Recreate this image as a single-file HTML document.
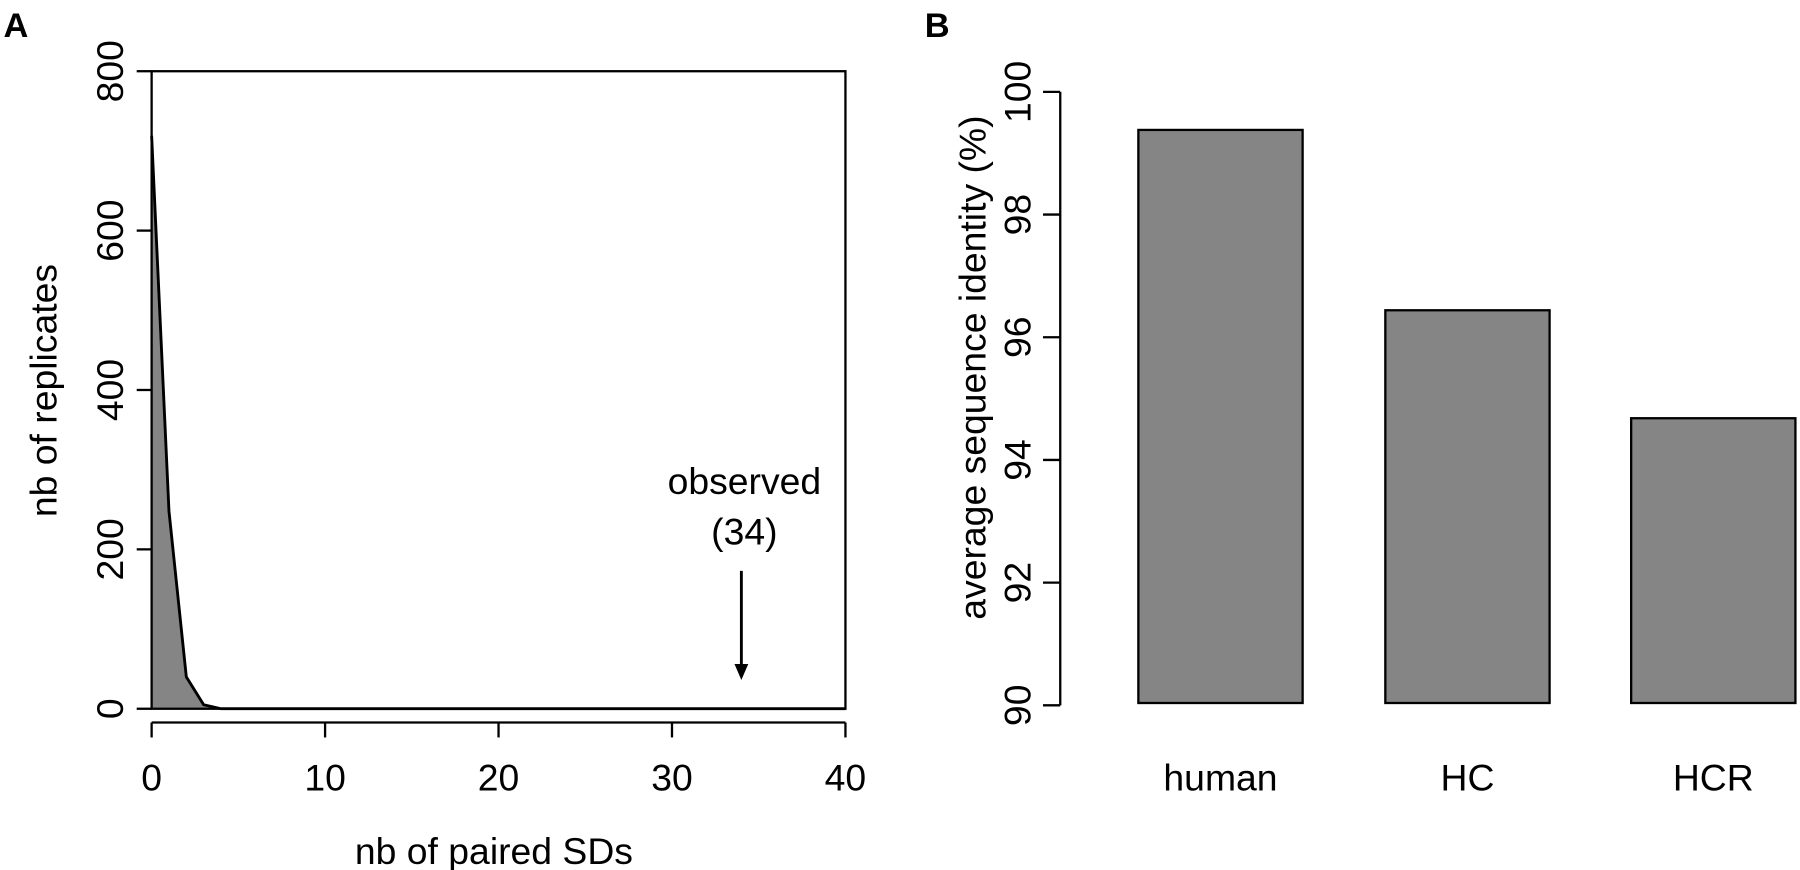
<!DOCTYPE html>
<html><head><meta charset="utf-8"><style>
body{margin:0;background:#fff;}
svg{display:block;font-family:"Liberation Sans",Arial,sans-serif;}
</style></head><body>
<svg width="1800" height="870"><g id="c" transform="scale(1.1487)"></g></svg>
<script>
const distX=[0,1,2,3,4,40];
const distY=[719,248,40,5,0,0];
const xTicksA=[0,10,20,30,40];
const yTicksA=[0,200,400,600,800];
const observed=34;
const cats=["human","HC","HCR"];
const vals=[99.38,96.44,94.68];
const yTicksB=[90,92,94,96,98,100];
const NS="http://www.w3.org/2000/svg";
const svg=document.getElementById('c');
const FS=32.5;
function el(t,a,txt){const e=document.createElementNS(NS,t);for(const k in a)e.setAttribute(k,a[k]);if(txt!==undefined)e.textContent=txt;svg.appendChild(e);return e;}
const ax=v=>132+v*(736-132)/40, ay=v=>617-v*(617-62)/800;
let e=el('text',{x:3,y:32,'font-size':30,'font-weight':'bold'},'A');


let pts=distX.map((x,i)=>ax(x)+','+ay(distY[i])).join(' ');
e=el('polygon',{points:ax(0)+','+ay(0)+' '+pts,fill:'#858585',stroke:'none'});


e=el('polyline',{points:pts,fill:'none',stroke:'#000','stroke-width':2.5});


e=el('rect',{x:132,y:62,width:604,height:555,fill:'none',stroke:'#000','stroke-width':2});


e=el('line',{x1:ax(0),x2:ax(40),y1:629,y2:629,stroke:'#000','stroke-width':2});


xTicksA.forEach(t=>{
 let l=el('line',{x1:ax(t),x2:ax(t),y1:629,y2:642,stroke:'#000','stroke-width':2});
 
 
 let tx=el('text',{x:ax(t),y:688,'font-size':FS,'text-anchor':'middle'},t);
 
 
});
yTicksA.forEach(t=>{
 let l=el('line',{x1:119,x2:132,y1:ay(t),y2:ay(t),stroke:'#000','stroke-width':2});
 
 
 let tx=el('text',{x:0,y:0,'font-size':FS,'text-anchor':'middle',transform:`translate(107,${ay(t)}) rotate(-90)`},t);
 
 
});
e=el('text',{x:0,y:0,'font-size':FS,'text-anchor':'middle',transform:'translate(49,340) rotate(-90)'},'nb of replicates');


e=el('text',{x:430,y:752,'font-size':FS,'text-anchor':'middle'},'nb of paired SDs');


e=el('line',{x1:ax(observed),x2:ax(observed),y1:497,y2:580,stroke:'#000','stroke-width':2.5});


e=el('polygon',{points:`${ax(observed)-6},578 ${ax(observed)+6},578 ${ax(observed)},592`,fill:'#000'});


e=el('text',{x:648,y:430,'font-size':FS,'text-anchor':'middle'},'observed');


e=el('text',{x:648,y:474,'font-size':FS,'text-anchor':'middle'},'('+observed+')');


const by=v=>614-(v-90)*(614-80)/10;
const bx=[991,1206,1420], bw=143;
e=el('text',{x:805,y:32,'font-size':30,'font-weight':'bold'},'B');


e=el('line',{x1:923,x2:923,y1:by(90),y2:by(100),stroke:'#000','stroke-width':2});


yTicksB.forEach(t=>{
 let l=el('line',{x1:908,x2:923,y1:by(t),y2:by(t),stroke:'#000','stroke-width':2});
 
 
 let tx=el('text',{x:0,y:0,'font-size':FS,'text-anchor':'middle',transform:`translate(897,${by(t)}) rotate(-90)`},t);
 
 
});
e=el('text',{x:0,y:0,'font-size':FS,'text-anchor':'middle',transform:'translate(858,320) rotate(-90)'},'average sequence identity (%)');


cats.forEach((c,i)=>{
 let r=el('rect',{x:bx[i],y:by(vals[i]),width:bw,height:by(90)-2-by(vals[i]),fill:'#858585',stroke:'#000','stroke-width':2});
 
 
 let tx=el('text',{x:bx[i]+bw/2,y:688,'font-size':FS,'text-anchor':'middle'},c);
 
 
});
</script>
</body></html>
